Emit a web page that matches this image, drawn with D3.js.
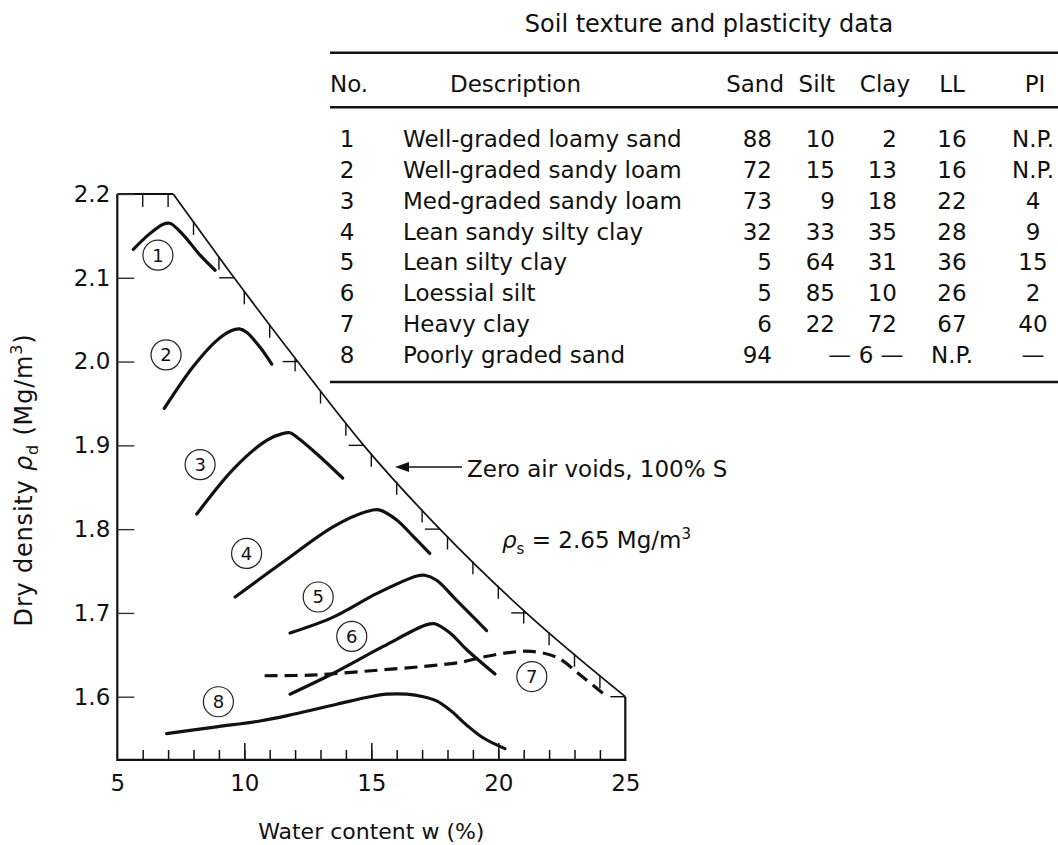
<!DOCTYPE html>
<html>
<head>
<meta charset="utf-8">
<script src="https://cdn.jsdelivr.net/npm/d3@7"></script>
<style>
  body { margin: 0; background: #fff; }
  svg { display: block; font-family: "DejaVu Sans", sans-serif; fill: #111; }
</style>
</head>
<body>
<svg id="chart" width="1058" height="845"></svg>
<script>
// Compaction curves: [water content %, dry density Mg/m3]
const curve1 = [[5.63,2.134],[6.29,2.153],[6.81,2.164],[7.07,2.165],[7.6,2.151],[8.26,2.127],[8.85,2.109]];
const curve2 = [[6.85,1.944],[7.99,1.994],[8.91,2.025],[9.5,2.037],[9.8,2.039],[10.09,2.035],[10.62,2.017],[11.08,1.997]];
const curve3 = [[8.13,1.818],[9.58,1.872],[10.88,1.906],[11.5,1.914],[11.8,1.915],[12.06,1.910],[12.85,1.890],[13.87,1.861]];
const curve4 = [[9.64,1.719],[11.54,1.761],[13.51,1.803],[14.82,1.821],[15.3,1.823],[16.0,1.811],[16.66,1.791],[17.3,1.771]];
const curve5 = [[11.8,1.676],[13.5,1.695],[15.21,1.723],[16.79,1.744],[17.1,1.745],[17.57,1.739],[18.36,1.715],[19.54,1.679]];
const curve6 = [[11.8,1.603],[13.51,1.628],[15.47,1.660],[17.18,1.686],[17.5,1.687],[18.1,1.676],[18.76,1.656],[19.87,1.627]];
const curve7 = [[10.8,1.625],[12.8,1.626],[15.0,1.631],[17.0,1.636],[18.5,1.641],[19.5,1.648],[20.5,1.653],[21.3,1.654],[22.3,1.647],[23.3,1.624],[24.2,1.602]];
const curve8 = [[6.94,1.556],[8.91,1.564],[10.62,1.571],[11.93,1.579],[13.64,1.591],[14.95,1.600],[15.6,1.603],[16.4,1.603],[17.05,1.600],[17.57,1.595],[18.1,1.584],[18.76,1.566],[19.4,1.551],[20.26,1.538]];

// Zero air voids line (100% saturation)
const zavW = [7.2, 9.6, 12.1, 14.7, 17.7, 21.1, 25.0];
const zavRho = [2.2, 2.1, 2.0, 1.9, 1.8, 1.7, 1.6];

// Circled curve numbers and where they sit
const labelNo = [1, 2, 3, 4, 5, 6, 7, 8];
const labelW = [6.6, 6.92, 8.26, 10.09, 12.91, 14.23, 21.32, 8.98];
const labelRho = [2.127, 2.008, 1.877, 1.771, 1.719, 1.672, 1.624, 1.594];

// Axis ticks
const xTickLabels = [5, 10, 15, 20, 25];
const xMinorTicks = d3.range(6, 25);
const xMajorTicks = [10, 15, 20];
const yTicks = [1.6, 1.7, 1.8, 1.9, 2.0, 2.1, 2.2];

// Table data
const tableTitle = "Soil texture and plasticity data";
const soilNo = ["1", "2", "3", "4", "5", "6", "7", "8"];
const descriptions = ["Well-graded loamy sand", "Well-graded sandy loam", "Med-graded sandy loam",
  "Lean sandy silty clay", "Lean silty clay", "Loessial silt", "Heavy clay", "Poorly graded sand"];
const sand = ["88", "72", "73", "32", "5", "5", "6", "94"];
const silt = ["10", "15", "9", "33", "64", "85", "22", null];
const clay = ["2", "13", "18", "35", "31", "10", "72", null];
const siltClayRow8 = "\u2014  6 \u2014";
const liquidLimit = ["16", "16", "22", "28", "36", "26", "67", "N.P."];
const plasticity = ["N.P.", "N.P.", "4", "9", "15", "2", "40", "\u2014"];

const svg = d3.select("#chart");

// Scales
const x = d3.scaleLinear().domain([5, 25]).range([117.3, 625.3]);
const y = d3.scaleLinear().domain([1.6, 2.2]).range([696.7, 194]);
const yBottom = 1.5245;

const zavAt = d3.scaleLinear().domain(zavW).range(zavRho);   // rho at a given w
const zavWAt = d3.scaleLinear().domain(zavRho).range(zavW);  // w at a given rho

// Frame: left axis, bottom axis, right edge, ZAV line, top edge
const zavPts = zavW.map((w, i) => [w, zavRho[i]]);
const framePts = [[5, 2.2], [5, yBottom], [25, yBottom], [25, 1.6]];
svg.append("path")
  .attr("d", d3.line().x(d => x(d[0])).y(d => y(d[1]))(framePts))
  .attr("fill", "none").attr("stroke", "#111").attr("stroke-width", 2.2);
svg.append("path")
  .attr("d", d3.line().x(d => x(d[0])).y(d => y(d[1]))([[5, 2.2], [zavW[0], 2.2]]))
  .attr("fill", "none").attr("stroke", "#111").attr("stroke-width", 2);
svg.append("path")
  .attr("d", d3.line().curve(d3.curveMonotoneX).x(d => x(d[0])).y(d => y(d[1]))(zavPts))
  .attr("fill", "none").attr("stroke", "#111").attr("stroke-width", 1.7);

// Small tick marks hanging under the top edge / ZAV line
const topTicks = d3.range(6, 25).map(w => [w, w <= zavW[0] ? 2.2 : zavAt(w)]);
svg.append("g").selectAll("line").data(topTicks).join("line")
  .attr("x1", d => x(d[0])).attr("x2", d => x(d[0]))
  .attr("y1", d => y(d[1])).attr("y2", d => y(d[1]) + 13)
  .attr("stroke", "#111").attr("stroke-width", 1.4);
svg.append("g").selectAll("line").data(yTicks.filter(v => v < 2.2)).join("line")
  .attr("x1", d => x(zavWAt(d))).attr("x2", d => x(zavWAt(d)) - 15)
  .attr("y1", d => y(d)).attr("y2", d => y(d))
  .attr("stroke", "#111").attr("stroke-width", 1.4);

// Bottom axis: minor and major ticks pointing up, labels below
const gx = svg.append("g").attr("transform", `translate(0,${y(yBottom)})`);
gx.append("g").call(d3.axisBottom(x).tickValues(xMinorTicks).tickSize(-10).tickFormat(""));
gx.append("g").call(d3.axisBottom(x).tickValues(xMajorTicks).tickSize(-17).tickFormat(""));
gx.append("g").call(d3.axisBottom(x).tickValues(xTickLabels).tickSize(0).tickPadding(15).tickFormat(d3.format("d")));
gx.selectAll(".domain").remove();
gx.selectAll("line").attr("stroke", "#111").attr("stroke-width", 1.5);
gx.selectAll("text").attr("font-size", 23).attr("font-family", "DejaVu Sans").attr("fill", "#111");

// Left axis
const gy = svg.append("g").attr("transform", `translate(${x(5)},0)`);
gy.call(d3.axisLeft(y).tickValues(yTicks).tickSize(-17).tickPadding(7).tickFormat(d3.format(".1f")));
gy.select(".domain").remove();
gy.selectAll("line").attr("stroke", "#333").attr("stroke-width", 1.4);
gy.selectAll("text").attr("font-size", 23).attr("font-family", "DejaVu Sans").attr("fill", "#111");

// Curves
const line = d3.line().curve(d3.curveCatmullRom.alpha(0.5)).x(d => x(d[0])).y(d => y(d[1]));
const solidCurves = [curve1, curve2, curve3, curve4, curve5, curve6, curve8];
svg.append("g").selectAll("path").data(solidCurves).join("path")
  .attr("d", line)
  .attr("fill", "none").attr("stroke", "#111").attr("stroke-width", 3.2)
  .attr("stroke-linecap", "round");
svg.append("path")
  .attr("d", line(curve7))
  .attr("fill", "none").attr("stroke", "#111").attr("stroke-width", 3.2)
  .attr("stroke-dasharray", "13,7");

// Circled numbers
const marks = svg.append("g").selectAll("g").data(labelNo).join("g")
  .attr("transform", (d, i) => `translate(${x(labelW[i])},${y(labelRho[i])})`);
marks.append("circle").attr("r", 15).attr("fill", "#fff").attr("stroke", "#222").attr("stroke-width", 1.2);
marks.append("text").text(d => d)
  .attr("text-anchor", "middle").attr("dy", "0.36em").attr("font-size", 18);

// Annotations
svg.append("line").attr("x1", 462).attr("x2", 405).attr("y1", 467).attr("y2", 467)
  .attr("stroke", "#111").attr("stroke-width", 1.3);
svg.append("path").attr("d", "M395,467L409,462L409,472Z").attr("fill", "#111");
svg.append("text").attr("x", 467).attr("y", 477).attr("font-size", 23).text("Zero air voids, 100% S");
const rhoS = svg.append("text").attr("x", 502).attr("y", 548).attr("font-size", 23);
rhoS.append("tspan").attr("font-style", "italic").text("\u03c1");
rhoS.append("tspan").attr("font-size", 15).attr("dy", 6).text("s");
rhoS.append("tspan").attr("dy", -6).text(" = 2.65 Mg/m");
rhoS.append("tspan").attr("font-size", 15).attr("dy", -9).text("3");

// Axis titles
svg.append("text").attr("x", x(15)).attr("y", 839).attr("text-anchor", "middle")
  .attr("font-size", 22).text("Water content w (%)");
const yt = svg.append("text").attr("transform", "translate(32,480) rotate(-90)")
  .attr("text-anchor", "middle").attr("font-size", 24).attr("letter-spacing", 0.8);
yt.append("tspan").text("Dry density ");
yt.append("tspan").attr("font-style", "italic").text("\u03c1");
yt.append("tspan").attr("font-size", 16).attr("dy", 6).text("d");
yt.append("tspan").attr("dy", -6).text("  (Mg/m");
yt.append("tspan").attr("font-size", 16).attr("dy", -10).text("3");
yt.append("tspan").attr("dy", 10).text(")");

// Table
svg.append("text").attr("x", 709).attr("y", 32).attr("text-anchor", "middle")
  .attr("font-size", 24).text(tableTitle);
[52.7, 107.3, 382].forEach(ry => {
  svg.append("line").attr("x1", 330).attr("x2", 1058).attr("y1", ry).attr("y2", ry)
    .attr("stroke", "#111").attr("stroke-width", 2.4);
});

const head = svg.append("g").attr("font-size", 23);
head.append("text").attr("x", 330).attr("y", 92).text("No.");
head.append("text").attr("x", 450).attr("y", 92).text("Description");
head.append("text").attr("x", 784).attr("y", 92).attr("text-anchor", "end").text("Sand");
head.append("text").attr("x", 835).attr("y", 92).attr("text-anchor", "end").text("Silt");
head.append("text").attr("x", 910).attr("y", 92).attr("text-anchor", "end").text("Clay");
head.append("text").attr("x", 952).attr("y", 92).attr("text-anchor", "middle").text("LL");
head.append("text").attr("x", 1035).attr("y", 92).attr("text-anchor", "middle").text("PI");

const rowY = d3.scaleLinear().domain([0, 7]).range([147, 363]);
const rows = svg.append("g").attr("font-size", 23).selectAll("g").data(soilNo).join("g")
  .attr("transform", (d, i) => `translate(0,${rowY(i)})`);
rows.append("text").attr("x", 347).attr("text-anchor", "middle").text(d => d);
rows.append("text").attr("x", 403).text((d, i) => descriptions[i]);
rows.append("text").attr("x", 772).attr("text-anchor", "end").text((d, i) => sand[i]);
rows.append("text").attr("x", 835).attr("text-anchor", "end").text((d, i) => silt[i]);
rows.append("text").attr("x", 897).attr("text-anchor", "end").text((d, i) => clay[i]);
rows.append("text").attr("x", 952).attr("text-anchor", "middle").text((d, i) => liquidLimit[i]);
rows.append("text").attr("x", 1033).attr("text-anchor", "middle").text((d, i) => plasticity[i]);
svg.append("text").attr("x", 866).attr("y", rowY(7)).attr("text-anchor", "middle")
  .attr("font-size", 23).text(siltClayRow8);
</script>
</body>
</html>
